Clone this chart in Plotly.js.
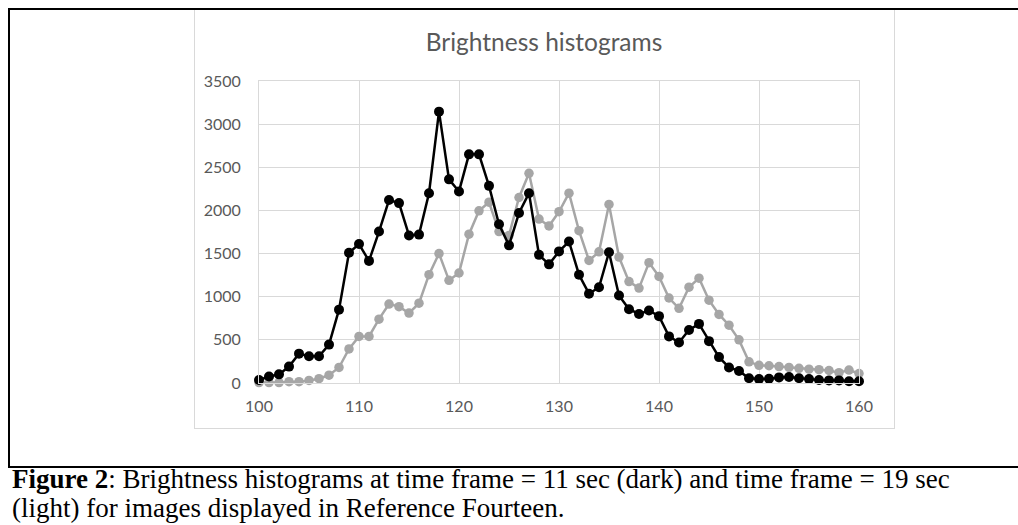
<!DOCTYPE html>
<html>
<head>
<meta charset="utf-8">
<script src="https://cdn.plot.ly/plotly-3.0.1.min.js"></script>
<style>
  html, body { margin:0; padding:0; background:#ffffff; }
  #page { position:relative; width:1018px; height:525px; overflow:hidden; background:#ffffff; }
  .bl { position:absolute; background:#000000; }
  #chartbox { position:absolute; left:194px; top:9px; width:699px; height:418px; border:1px solid #D9D9D9; box-sizing:content-box; }
  #plot { position:absolute; left:0; top:0; width:1018px; height:525px; }
  #caption { position:absolute; left:12px; top:465px; font-family:"Liberation Serif","Times New Roman",serif; font-size:27px; line-height:29px; color:#000; white-space:nowrap; }
</style>
</head>
<body>
<div id="page">
  <div id="chartbox"></div>
  <div class="bl" style="left:8px;top:8px;width:1010px;height:2px;"></div>
  <div class="bl" style="left:8px;top:8px;width:2px;height:460px;"></div>
  <div class="bl" style="left:8px;top:466px;width:1010px;height:2px;"></div>
  <div id="plot"></div>
  <div id="caption"><b>Figure 2</b>: Brightness histograms at time frame = 11 sec (dark) and time frame = 19 sec<br>(light) for images displayed in Reference Fourteen.</div>
</div>
<script>
// Brightness levels (x axis)
var brightness = [100,101,102,103,104,105,106,107,108,109,110,111,112,113,114,115,116,117,118,119,120,
                  121,122,123,124,125,126,127,128,129,130,131,132,133,134,135,136,137,138,139,140,
                  141,142,143,144,145,146,147,148,149,150,151,152,153,154,155,156,157,158,159,160];

// Histogram at time frame = 11 sec (dark series)
var dark11 = [35,75,100,190,340,310,310,445,850,1510,1610,1415,1755,2120,2085,1710,1720,2200,3145,2360,2220,
              2650,2650,2285,1840,1595,1970,2200,1485,1375,1525,1640,1255,1035,1110,1515,1015,855,800,840,775,
              540,470,615,685,485,300,180,140,55,45,50,65,70,55,45,35,30,30,20,20];

// Histogram at time frame = 19 sec (light series)
var light19 = [5,5,5,15,15,30,50,90,180,395,540,540,740,915,885,810,925,1255,1500,1190,1275,
               1725,1995,2095,1755,1710,2150,2430,1900,1820,1985,2200,1765,1420,1520,2070,1460,1175,1100,1395,1235,
               985,865,1110,1215,960,795,670,500,245,205,200,190,180,170,160,155,145,120,150,110];

var chartTitle = "Brightness histograms";
var xTicks = [100,110,120,130,140,150,160];
var yTicks = [0,500,1000,1500,2000,2500,3000,3500];

var traces = [
  {
    x: brightness, y: light19, type: 'scatter', mode: 'lines+markers', name: '19 sec (light)',
    cliponaxis: false,
    line: { color: '#A6A6A6', width: 2.5 },
    marker: { color: '#A6A6A6', size: 9.5, line: { width: 0 } }
  },
  {
    x: brightness, y: dark11, type: 'scatter', mode: 'lines+markers', name: '11 sec (dark)',
    cliponaxis: false,
    line: { color: '#000000', width: 2.5 },
    marker: { color: '#000000', size: 10, line: { width: 0 } }
  }
];

var axisFont = { family: 'Lato, "Open Sans", sans-serif', size: 16, color: '#595959' };

var layout = {
  width: 1018, height: 525,
  margin: { l: 259, r: 159, t: 81, b: 142, pad: 0 },
  paper_bgcolor: 'rgba(0,0,0,0)',
  plot_bgcolor: 'rgba(0,0,0,0)',
  showlegend: false,
  title: {
    text: chartTitle,
    font: { family: 'Lato, "Open Sans", sans-serif', size: 24.5, color: '#595959' },
    xref: 'container', x: 544 / 1018, xanchor: 'center',
    yref: 'container', y: 1 - 42 / 525, yanchor: 'middle'
  },
  xaxis: {
    range: [100, 160], tickmode: 'array', tickvals: xTicks,
    showgrid: true, gridcolor: '#D9D9D9', gridwidth: 1,
    zeroline: false, showline: true, linecolor: '#D9D9D9', linewidth: 1, mirror: true,
    ticks: '', tickfont: axisFont, ticklabelstandoff: 9
  },
  yaxis: {
    range: [0, 3500], tickmode: 'array', tickvals: yTicks,
    showgrid: true, gridcolor: '#D9D9D9', gridwidth: 1,
    zeroline: false, showline: true, linecolor: '#D9D9D9', linewidth: 1, mirror: true,
    ticks: '', tickfont: axisFont, ticklabelstandoff: 14
  }
};

Plotly.newPlot('plot', traces, layout, { staticPlot: true, displayModeBar: false });
</script>
</body>
</html>
